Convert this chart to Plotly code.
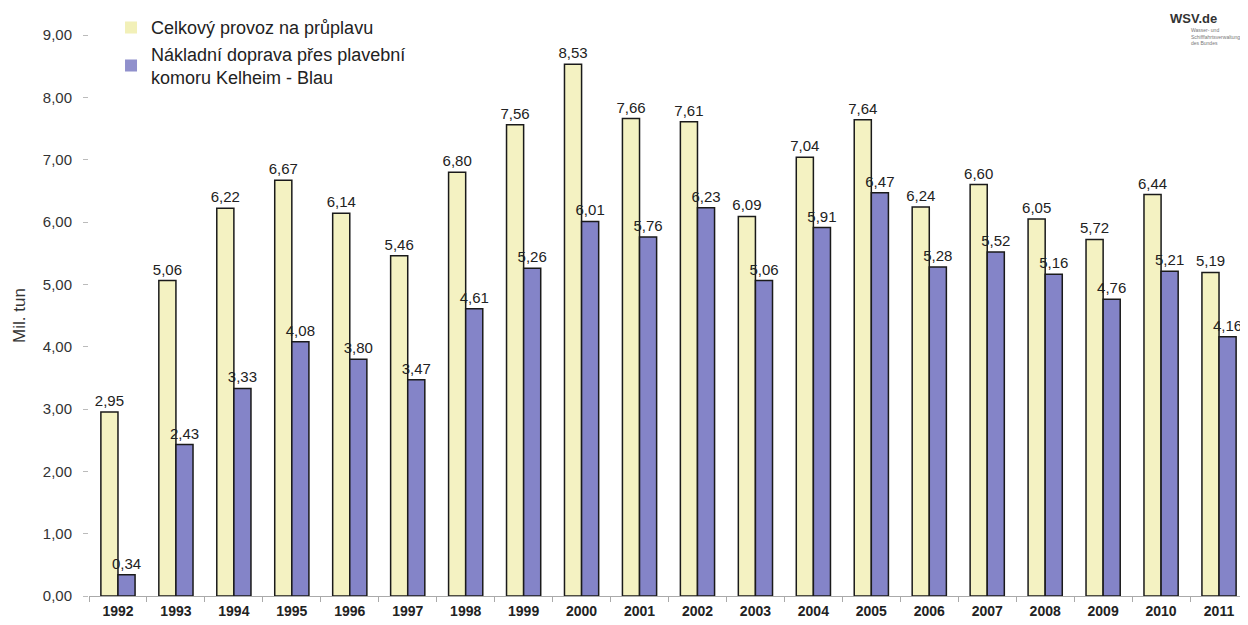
import plotly.graph_objects as go

years = [str(y) for y in range(1992, 2012)]
celkovy = [2.95, 5.06, 6.22, 6.67, 6.14, 5.46, 6.80, 7.56, 8.53, 7.66, 7.61, 6.09, 7.04, 7.64, 6.24, 6.60, 6.05, 5.72, 6.44, 5.19]
nakladni = [0.34, 2.43, 3.33, 4.08, 3.80, 3.47, 4.61, 5.26, 6.01, 5.76, 6.23, 5.06, 5.91, 6.47, 5.28, 5.52, 5.16, 4.76, 5.21, 4.16]
y_ticks = [0, 1, 2, 3, 4, 5, 6, 7, 8, 9]
name1 = "Celkový provoz na průplavu"
name2 = "Nákladní doprava přes plavební<br>komoru Kelheim - Blau"
col1 = "#F4F2C2"
col2 = "#8484C8"

def fmt(v):
    return f"{v:.2f}".replace(".", ",")

fig = go.Figure()
fig.add_trace(go.Bar(
    x=years, y=celkovy, name=name1, showlegend=False, offsetgroup="a",
    marker=dict(color=col1, line=dict(color="#1a1a1a", width=1.5)),
    text=[fmt(v) for v in celkovy], textposition="outside", constraintext="none",
    textfont=dict(size=15, color="#222222"), cliponaxis=False,
))
fig.add_trace(go.Bar(
    x=years, y=nakladni, name=name2, showlegend=False, offsetgroup="b",
    marker=dict(color=col2, line=dict(color="#1a1a1a", width=1.5)),
    text=[fmt(v) for v in nakladni], textposition="outside", constraintext="none",
    textfont=dict(size=15, color="#222222"), cliponaxis=False,
))
# legend-only entries (swatches without outline)
fig.add_trace(go.Bar(x=[None], y=[None], name=name1, offsetgroup="a",
                     marker=dict(color="#F2F0B8", line=dict(width=0))))
fig.add_trace(go.Bar(x=[None], y=[None], name=name2, offsetgroup="b",
                     marker=dict(color="#9090CC", line=dict(width=0))))

fig.update_layout(
    width=1240, height=617,
    separators=", ",
    barmode="group", bargap=0.41, bargroupgap=0.0,
    plot_bgcolor="white", paper_bgcolor="white",
    font=dict(family="Liberation Sans, Arial, sans-serif", color="#222222"),
    margin=dict(l=81, r=0, t=27, b=29),
    legend=dict(x=0.019, y=1.046, xanchor="left", yanchor="top",
                font=dict(size=18, color="#222222"), bgcolor="rgba(0,0,0,0)",
                tracegroupgap=12),
    showlegend=True,
    xaxis=dict(range=[-0.5, 19.5], showline=True, linecolor="#aaaaaa", ticks="outside", tickson="boundaries",
               ticklen=5, tickcolor="#aaaaaa", automargin=False, ticklabelstandoff=2,
               tickfont=dict(size=14, color="#222222", family="Liberation Sans, Arial, sans-serif"),
               showgrid=False),
    yaxis=dict(range=[0, 9], tickvals=y_ticks, tickformat=".2f", showgrid=False,
               ticks="outside", ticklen=5, tickcolor="#bbbbbb", zeroline=False,
               ticklabelstandoff=8, automargin=False,
               tickfont=dict(size=15, color="#333333"),
               title=dict(text="Mil. tun", font=dict(size=17, color="#333333"), standoff=12)),
)
fig.update_xaxes(tickvals=years, ticktext=[f"<b>{y}</b>" for y in years])

fig.add_annotation(xref="paper", yref="paper", x=0.975, y=1.046, xanchor="right", yanchor="top",
                   text="<b>WSV.de</b>", showarrow=False, font=dict(size=13, color="#333333"))
fig.add_annotation(xref="paper", yref="paper", x=0.995, y=1.018, xanchor="right", yanchor="top",
                   text="Wasser- und<br>Schifffahrtsverwaltung<br>des Bundes", showarrow=False, align="left",
                   font=dict(size=5, color="#777777"))

fig.write_html("out.html")
